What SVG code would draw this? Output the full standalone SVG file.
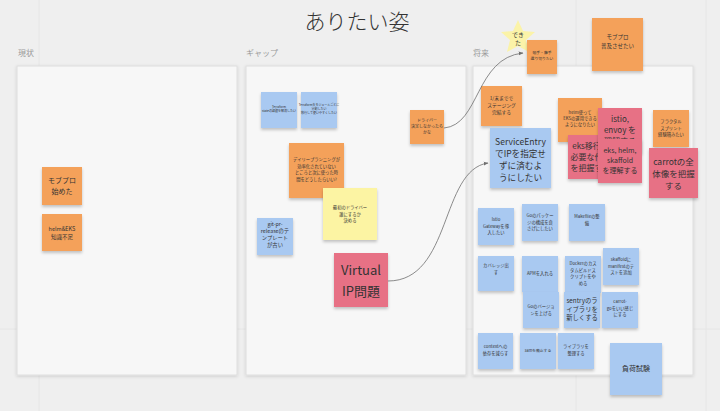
<svg xmlns="http://www.w3.org/2000/svg" width="720" height="411" viewBox="0 0 720 411">
<style>
text{font-family:"Noto Sans CJK JP","Noto Sans",sans-serif;fill:#333;text-anchor:middle}
.lbl{fill:#9a9a9a;font-size:8px;text-anchor:start}
.panel{fill:#f7f7f7;stroke:#dedede;stroke-width:1}
.o{fill:#f4a15a}
.b{fill:#a9c9f1}
.r{fill:#e77185}
.y{fill:#fcf4a3}
.grid{stroke:#e6e6e6;stroke-width:1}
.conn{fill:none;stroke:#6f6f6f;stroke-width:0.8}
</style>
<defs>
<filter id="sh" x="-20%" y="-20%" width="140%" height="150%">
<feDropShadow dx="0" dy="2" stdDeviation="1.5" flood-color="#000" flood-opacity="0.22"/>
</filter>
<filter id="psh" x="-5%" y="-5%" width="110%" height="110%">
<feDropShadow dx="0" dy="1" stdDeviation="1.5" flood-color="#000" flood-opacity="0.15"/>
</filter>
<clipPath id="c14"><rect x="568" y="135" width="30" height="44"/></clipPath>
<clipPath id="c15"><rect x="598" y="108" width="44" height="31"/></clipPath>
<marker id="ah" viewBox="0 0 10 10" refX="9" refY="5" markerWidth="6" markerHeight="6" orient="auto">
<path d="M0,1 L10,5 L0,9 z" fill="#6f6f6f"/>
</marker>
</defs>
<rect width="720" height="411" fill="#efefef"/>
<g id="grid">
<line class="grid" x1="39" y1="0" x2="39" y2="411"/>
<line class="grid" x1="576" y1="0" x2="576" y2="411"/>
<line class="grid" x1="706" y1="0" x2="706" y2="411"/>
<line class="grid" x1="0" y1="329" x2="720" y2="329"/>
</g>
<text x="357" y="29" font-size="21" font-weight="300">ありたい姿</text>
<text class="lbl" x="18" y="56">現状</text>
<text class="lbl" x="246" y="56">ギャップ</text>
<text class="lbl" x="473" y="56">将来</text>
<g id="panels">
<rect class="panel" filter="url(#psh)" x="17" y="66" width="220" height="309"/>
<rect class="panel" filter="url(#psh)" x="246" y="66" width="220" height="309"/>
<rect class="panel" filter="url(#psh)" x="473" y="66" width="220" height="309"/>
</g>
<g id="n1"><rect class="o" filter="url(#sh)" x="42" y="167" width="40" height="38"/><text font-size="7" y="183"><tspan x="62">モブプロ</tspan><tspan x="62" dy="11">始めた</tspan></text></g>
<g id="n2"><rect class="o" filter="url(#sh)" x="42" y="214" width="40" height="37"/><text font-size="5.5" y="231"><tspan x="62">helm&amp;EKS</tspan><tspan x="62" dy="8">知識不足</tspan></text></g>
<g id="n3"><rect class="b" filter="url(#sh)" x="261" y="92" width="36" height="36"/><text font-size="3" y="108"><tspan x="279">Terraform</tspan><tspan x="279" dy="4">stateの課題を解消したい</tspan></text></g>
<g id="n4"><rect class="b" filter="url(#sh)" x="301" y="92" width="36" height="36"/><text font-size="3" y="106"><tspan x="319">Terraformをモジュールごとに</tspan><tspan x="319" dy="4">分割したい</tspan><tspan x="319" dy="4">移行して使いやすくしたい</tspan></text></g>
<g id="n5"><rect class="o" filter="url(#sh)" x="289" y="143" width="55" height="55"/><text font-size="4.3" y="161"><tspan x="316.5">デイリープランニングが</tspan><tspan x="316.5" dy="6.5">効率化されていない</tspan><tspan x="316.5" dy="6.5">ところと次に使った時</tspan><tspan x="316.5" dy="6.5">間をどうしたらいい?</tspan></text></g>
<g id="n6"><rect class="y" filter="url(#sh)" x="323" y="188" width="54" height="52"/><text font-size="4.3" y="209"><tspan x="350">最初のドライバー</tspan><tspan x="350" dy="6.5">誰にするか</tspan><tspan x="350" dy="6.5">決める</tspan></text></g>
<g id="n7"><rect class="b" filter="url(#sh)" x="257" y="218" width="36" height="37"/><text font-size="5.3" y="226"><tspan x="275">git-pr-</tspan><tspan x="275" dy="7">releaseのテ</tspan><tspan x="275" dy="7">ンプレート</tspan><tspan x="275" dy="7">が古い</tspan></text></g>
<g id="n8"><rect class="r" filter="url(#sh)" x="334" y="253" width="54" height="54"/><text font-size="13" x="361" y="275">Virtual</text><text font-size="13" x="361" y="296">IP問題</text></g>
<g id="n9"><rect class="o" filter="url(#sh)" x="410" y="110" width="34" height="34"/><text font-size="4" y="122"><tspan x="427">ドライバー</tspan><tspan x="427" dy="6">決定しなかったら</tspan><tspan x="427" dy="6">かな</tspan></text></g>
<g id="star"><polygon fill="#fbf3a8" points="518,20 523,31 535,32 526,40 529,52 518,46 507,52 510,40 501,32 513,31"/><text font-size="6" fill="#555" y="37"><tspan x="518">でき</tspan><tspan x="518" dy="8">た</tspan></text></g>
<g id="n10"><rect class="o" filter="url(#sh)" x="527" y="40" width="30" height="34"/><text font-size="3.8" y="54"><tspan x="542">頭手・藤手</tspan><tspan x="542" dy="6">選り切りたい</tspan></text></g>
<g id="n11"><rect class="o" filter="url(#sh)" x="592" y="18" width="51" height="53"/><text font-size="5.5" y="39"><tspan x="617.5">モブプロ</tspan><tspan x="617.5" dy="9">普及させたい</tspan></text></g>
<g id="n12"><rect class="o" filter="url(#sh)" x="481" y="86" width="41" height="40"/><text font-size="4.8" y="100"><tspan x="501.5">1/末までで</tspan><tspan x="501.5" dy="7">ステージング</tspan><tspan x="501.5" dy="7">完結する</tspan></text></g>
<g id="n13"><rect class="o" filter="url(#sh)" x="558" y="98" width="44" height="44"/><text font-size="4.3" y="114"><tspan x="580">helm使って</tspan><tspan x="580" dy="6">EKSの運用できる</tspan><tspan x="580" dy="6">ようになりたい</tspan></text></g>
<g id="n14"><rect class="r" filter="url(#sh)" x="568" y="135" width="45" height="44"/><text clip-path="url(#c14)" font-size="8" y="149"><tspan x="590.5">eks移行に</tspan><tspan x="590.5" dy="11">必要な作業</tspan><tspan x="590.5" dy="11">を把握する</tspan></text></g>
<g id="n15"><rect class="r" filter="url(#sh)" x="598" y="108" width="44" height="45"/><text clip-path="url(#c15)" font-size="8" y="122"><tspan x="620">istio,</tspan><tspan x="620" dy="11">envoy を</tspan><tspan x="620" dy="11">理解する</tspan></text></g>
<g id="n16"><rect class="r" filter="url(#sh)" x="598" y="139" width="44" height="44"/><text font-size="7" y="153"><tspan x="620">eks, helm,</tspan><tspan x="620" dy="10">skaffold</tspan><tspan x="620" dy="10">を理解する</tspan></text></g>
<g id="n17"><rect class="o" filter="url(#sh)" x="653" y="110" width="36" height="37"/><text font-size="4.3" y="123"><tspan x="671">フラクタル</tspan><tspan x="671" dy="6.5">スプリント</tspan><tspan x="671" dy="6.5">経験積みたい</tspan></text></g>
<g id="n18"><rect class="r" filter="url(#sh)" x="649" y="148" width="49" height="50"/><text font-size="8.5" y="165"><tspan x="673.5">carrotの全</tspan><tspan x="673.5" dy="12">体像を把握</tspan><tspan x="673.5" dy="12">する</tspan></text></g>
<g id="n19"><rect class="b" filter="url(#sh)" x="490" y="128" width="61" height="60"/><text font-size="8.6" y="145"><tspan x="520.5">ServiceEntry</tspan><tspan x="520.5" dy="12">でIPを指定せ</tspan><tspan x="520.5" dy="12">ずに済むよ</tspan><tspan x="520.5" dy="12">うにしたい</tspan></text></g>
<g id="n20"><rect class="b" filter="url(#sh)" x="478" y="208" width="36" height="37"/><text font-size="4.3" y="221"><tspan x="496">Istio</tspan><tspan x="496" dy="6.5">Gatewayを導</tspan><tspan x="496" dy="6.5">入したい</tspan></text></g>
<g id="n21"><rect class="b" filter="url(#sh)" x="522" y="204" width="36" height="37"/><text font-size="4.3" y="217"><tspan x="540">Goのパッケー</tspan><tspan x="540" dy="6.5">ジの構成を良</tspan><tspan x="540" dy="6.5">さげにしたい</tspan></text></g>
<g id="n22"><rect class="b" filter="url(#sh)" x="569" y="204" width="36" height="37"/><text font-size="4.3" y="218"><tspan x="587">Makefileの整</tspan><tspan x="587" dy="6.5">備</tspan></text></g>
<g id="n23"><rect class="b" filter="url(#sh)" x="478" y="256" width="36" height="35"/><text font-size="4.3" y="267"><tspan x="496">カバレッジ出</tspan><tspan x="496" dy="6.5">す</tspan></text></g>
<g id="n24"><rect class="b" filter="url(#sh)" x="522" y="256" width="36" height="36"/><text font-size="4.3" x="540" y="275">APMを入れる</text></g>
<g id="n25"><rect class="b" filter="url(#sh)" x="565" y="256" width="36" height="37"/><text font-size="4.3" y="265"><tspan x="583">Dockerのカス</tspan><tspan x="583" dy="6.5">タムビルドス</tspan><tspan x="583" dy="6.5">クリプトをや</tspan><tspan x="583" dy="6.5">める</tspan></text></g>
<g id="n26"><rect class="b" filter="url(#sh)" x="603" y="248" width="36" height="37"/><text font-size="4.3" y="261"><tspan x="621">skaffoldに</tspan><tspan x="621" dy="6.5">manifestのテ</tspan><tspan x="621" dy="6.5">ストを追加</tspan></text></g>
<g id="n27"><rect class="b" filter="url(#sh)" x="523" y="292" width="36" height="36"/><text font-size="4.3" y="308"><tspan x="541">Goのバージョ</tspan><tspan x="541" dy="6.5">ンを上げる</tspan></text></g>
<g id="n28"><rect class="b" filter="url(#sh)" x="564" y="292" width="36" height="36"/><text font-size="6.3" y="303"><tspan x="582">sentryのラ</tspan><tspan x="582" dy="8.5">イブラリを</tspan><tspan x="582" dy="8.5">新しくする</tspan></text></g>
<g id="n29"><rect class="b" filter="url(#sh)" x="602" y="292" width="36" height="36"/><text font-size="4.3" y="303"><tspan x="620">carrot-</tspan><tspan x="620" dy="6.5">goをいい感じ</tspan><tspan x="620" dy="6.5">にする</tspan></text></g>
<g id="n30"><rect class="b" filter="url(#sh)" x="478" y="333" width="35" height="36"/><text font-size="4.3" y="348"><tspan x="495.5">contextへの</tspan><tspan x="495.5" dy="6.5">依存を減らす</tspan></text></g>
<g id="n31"><rect class="b" filter="url(#sh)" x="520" y="333" width="36" height="36"/><text font-size="3.8" x="538" y="352">samを廃止する</text></g>
<g id="n32"><rect class="b" filter="url(#sh)" x="558" y="333" width="36" height="36"/><text font-size="4.3" y="348"><tspan x="576">ライブラリを</tspan><tspan x="576" dy="6.5">整理する</tspan></text></g>
<g id="n33"><rect class="b" filter="url(#sh)" x="610" y="343" width="52" height="52"/><text font-size="7" x="636" y="371">負荷試験</text></g>
<g id="connectors">
<path class="conn" marker-end="url(#ah)" d="M444,128 C480,125 475,58 523,53"/>
<path class="conn" marker-end="url(#ah)" d="M388,281 C452,281 440,170 488,163"/>
</g>
</svg>
